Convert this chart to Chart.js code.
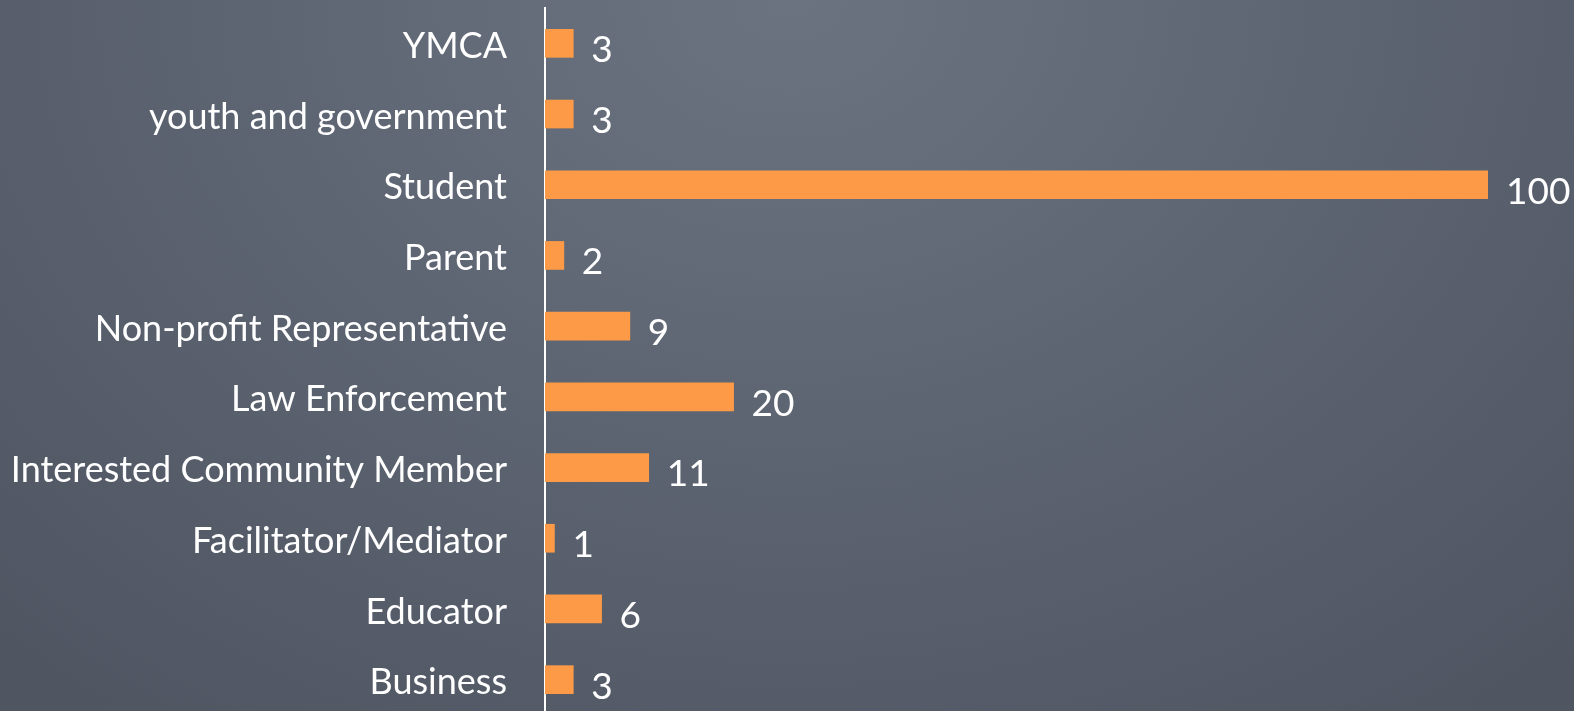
<!DOCTYPE html>
<html>
<head>
<meta charset="utf-8">
<script src="https://cdn.jsdelivr.net/npm/chart.js@4.4.0/dist/chart.umd.min.js"></script>
<style>
html, body { margin: 0; padding: 0; overflow: hidden; }
body {
    width: 1574px; height: 711px;
    background: radial-gradient(ellipse 1150px 900px at 790px 0px, #6b7381 0%, #5d6471 50%, #4f5662 100%);
}
#wrap { position: relative; width: 1574px; height: 722px; }
</style>
</head>
<body>
<div id="wrap"><canvas id="myChart"></canvas></div>
<script>
var labels = ["YMCA", "youth and government", "Student", "Parent", "Non-profit Representative",
    "Law Enforcement", "Interested Community Member", "Facilitator/Mediator", "Educator", "Business"];
var counts = [3, 3, 100, 2, 9, 20, 11, 1, 6, 3];

// value labels to the right of each bar
var valueLabels = {
    id: "valueLabels",
    afterDatasetsDraw: function(chart) {
        var ctx = chart.ctx;
        var meta = chart.getDatasetMeta(0);
        ctx.save();
        ctx.fillStyle = "#ffffff";
        ctx.font = "37px Lato";
        ctx.textAlign = "left";
        ctx.textBaseline = "middle";
        meta.data.forEach(function(bar, i) {
            ctx.fillText(counts[i], bar.x + 18, bar.y + 7);
        });
        ctx.restore();
    }
};

var ctx = document.getElementById("myChart").getContext("2d");
var myChart = new Chart(ctx, {
    type: "bar",
    data: {
        labels: labels,
        datasets: [{
            data: counts,
            backgroundColor: "#fd9a47",
            barThickness: 28
        }]
    },
    plugins: [valueLabels],
    options: {
        indexAxis: "y",
        responsive: true,
        maintainAspectRatio: false,
        animation: false,
        layout: { padding: { top: 8, bottom: 7, right: 86, left: 0 } },
        plugins: {
            legend: { display: false },
            tooltip: { enabled: false }
        },
        scales: {
            x: {
                min: 0,
                max: 100,
                display: false
            },
            y: {
                afterFit: function(s) {
                    s.width = 545;
                    s.paddingTop = 0;
                    s.paddingBottom = 0;
                },
                grid: { display: false, drawTicks: false },
                border: { display: true, color: "#ffffff", width: 2 },
                ticks: {
                    color: "#ffffff",
                    padding: 38,
                    labelOffset: 3,
                    font: { family: "Lato", size: 36 }
                }
            }
        }
    }
});
</script>
</body>
</html>
